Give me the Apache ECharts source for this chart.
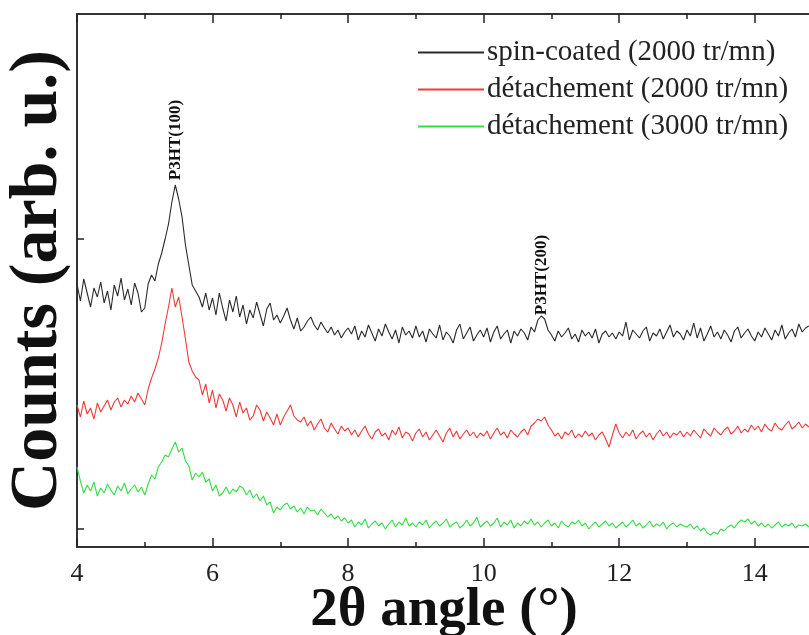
<!DOCTYPE html>
<html>
<head>
<meta charset="utf-8">
<script src="https://cdn.jsdelivr.net/npm/echarts@6/dist/echarts.min.js"></script>
<style>html,body{margin:0;padding:0;background:#fff;}#c{width:809px;height:635px;}</style>
</head>
<body>
<div id="c"></div>
<script>
// sampling grid of 2θ (degrees)
var angleStart = 4.0;
var angleStep = 0.05;

var seriesNames = ['spin-coated (2000 tr/mn)', 'détachement (2000 tr/mn)', 'détachement (3000 tr/mn)'];

var spinCoated2000 = [
 245,228,250,236,222,241,232,247,226,238,219,244,233,251,229,240,224,246,236,217,
 221,245,254,248,265,276,290,305,327,344,330,312,284,264,244,238,232,222,236,219,
 231,214,236,221,208,229,217,233,212,224,205,219,211,227,215,203,220,226,209,214,
 206,213,221,209,200,211,198,202,208,212,204,199,207,201,196,202,194,199,191,197,
 201,195,203,189,198,192,204,196,188,200,193,205,197,190,199,186,202,194,198,191,
 203,192,198,187,200,195,191,204,189,197,193,186,199,205,190,196,202,188,194,199,
 192,201,187,197,203,190,195,199,186,198,193,200,196,189,202,197,209,213,210,199,
 194,188,198,192,196,201,190,195,187,199,193,197,191,200,186,195,198,192,196,190,
 197,193,207,189,199,195,191,198,202,188,196,193,200,190,197,204,192,198,195,189,
 199,193,206,191,201,188,195,203,192,197,190,199,194,187,198,202,191,196,200,193,
 188,197,192,201,195,189,199,193,204,190,196,200,192,205,197,201,203
];

var detach2000 = [
 124,112,128,115,121,110,126,117,123,129,119,127,131,122,129,125,133,127,136,130,
 124,140,151,160,171,186,205,222,241,222,232,212,190,167,158,152,149,134,145,126,
 139,121,135,129,118,131,124,112,127,116,121,109,113,124,119,108,117,111,104,115,
 104,112,118,124,113,109,107,112,103,108,99,105,110,101,97,106,100,95,103,98,
 101,94,99,92,98,103,95,90,97,100,93,96,89,99,94,102,91,97,95,88,
 96,100,92,97,89,94,99,93,87,96,101,92,98,90,95,99,93,97,91,96,
 93,98,90,96,101,94,97,91,99,95,92,97,100,94,103,106,110,108,112,104,
 99,93,96,90,97,94,99,91,95,92,98,93,96,89,94,97,90,82,94,105,
 96,91,97,93,99,90,95,98,92,96,89,95,99,93,97,91,96,94,98,92,
 97,93,99,95,91,100,96,93,101,97,94,99,102,95,98,103,96,100,97,104,
 99,103,97,105,100,98,106,101,99,104,108,100,103,107,101,105,102
];

var detach3000 = [
 62,48,36,44,38,47,33,41,36,45,39,34,43,38,46,35,40,44,37,42,
 34,45,54,50,62,67,74,72,80,87,77,81,68,63,49,56,52,57,47,50,
 38,44,33,36,42,35,40,37,43,41,34,39,31,35,28,33,24,27,16,22,
 19,24,26,20,23,17,21,15,22,18,19,14,20,16,12,15,10,13,8,11,
 6,9,2,7,4,10,1,5,8,3,6,0,5,9,2,7,4,11,3,6,
 2,7,4,9,1,5,8,3,6,10,2,5,7,1,4,9,3,6,12,2,
 5,8,3,6,11,2,7,4,9,1,6,3,8,5,10,4,7,2,6,9,
 3,6,1,8,4,2,7,5,9,3,6,0,4,7,2,5,8,3,6,1,
 4,7,2,5,9,3,6,1,4,8,2,5,3,7,0,4,6,2,5,3,
 2,5,0,3,-2,1,-4,-6,-3,-5,0,-2,2,4,1,6,9,7,10,5,
 8,3,6,2,5,1,4,7,2,5,3,6,1,4,3,5,2
];

var xTickLabels = [4, 6, 8, 10, 12, 14];
var yTickValues = [0, 290];

var peakLabels = ['P3HT(100)', 'P3HT(200)'];
var peakLabelPos = [[5.46, 389], [10.86, 254]];

var colors = ['#2a2a2a', '#ee3a3a', '#33dd44'];

function pairs(arr) {
  var out = [];
  for (var i = 0; i < arr.length; i++) {
    out.push([+(angleStart + i * angleStep).toFixed(3), arr[i]]);
  }
  return out;
}

var chart = echarts.init(document.getElementById('c'), null, {renderer: 'canvas'});
var serif = 'Liberation Serif';
var axisLineStyle = {color: '#333', width: 2};

var xAxisCommon = {
  type: 'value', min: 4, max: 14.83, interval: 2,
  splitLine: {show: false},
  axisLine: {show: true, onZero: false, lineStyle: axisLineStyle},
  axisTick: {show: true, inside: true, length: 9, lineStyle: {color: '#222', width: 1.5}},
  minorTick: {show: true, splitNumber: 2, length: 5, lineStyle: {color: '#222', width: 1.5}},
  minorSplitLine: {show: false}
};

var option = {
  animation: false,
  backgroundColor: '#fff',
  grid: {left: 77, top: 14, right: -2, bottom: 88, containLabel: false, outerBoundsMode: 'none'},
  legend: {
    data: seriesNames,
    orient: 'vertical',
    left: 412, top: 33,
    itemWidth: 66, itemHeight: 14, itemGap: 8,
    itemStyle: {opacity: 0},
    textStyle: {fontFamily: serif, fontSize: 29, color: '#222', padding: [0, 0, 0, -2]}
  },
  xAxis: [
    Object.assign({}, xAxisCommon, {
      position: 'bottom',
      axisLabel: {
        show: true, fontFamily: serif, fontSize: 26, color: '#222', margin: 14,
        formatter: function (v) { return xTickLabels.indexOf(v) >= 0 ? String(v) : ''; }
      },
      name: '2θ angle (°)', nameLocation: 'middle', nameGap: 36, nameMoveOverlap: false,
      nameTextStyle: {fontFamily: serif, fontSize: 55, fontWeight: 'bold', color: '#111'}
    }),
    Object.assign({}, xAxisCommon, {
      position: 'top',
      axisLabel: {show: false}
    })
  ],
  yAxis: {
    type: 'value', min: -18, max: 515,
    splitLine: {show: false},
    axisLine: {show: true, onZero: false, lineStyle: axisLineStyle},
    axisTick: {show: true, inside: true, length: 7, customValues: yTickValues, lineStyle: {color: '#222', width: 1.5}},
    axisLabel: {show: false},
    name: 'Counts (arb. u.)', nameLocation: 'middle', nameGap: 5, nameRotate: 90, nameMoveOverlap: false,
    nameTextStyle: {fontFamily: serif, fontSize: 68, fontWeight: 'bold', color: '#111'}
  },
  series: [
    {name: seriesNames[0], type: 'line', data: pairs(spinCoated2000), symbol: 'none', lineStyle: {color: colors[0], width: 1.1}, itemStyle: {color: colors[0]}},
    {name: seriesNames[1], type: 'line', data: pairs(detach2000), symbol: 'none', lineStyle: {color: colors[1], width: 1.1}, itemStyle: {color: colors[1]}},
    {name: seriesNames[2], type: 'line', data: pairs(detach3000), symbol: 'none', lineStyle: {color: colors[2], width: 1.1}, itemStyle: {color: colors[2]}}
  ]
};
chart.setOption(option);

var g = [];
for (var i = 0; i < peakLabels.length; i++) {
  var p = chart.convertToPixel({xAxisIndex: 0, yAxisIndex: 0}, peakLabelPos[i]);
  g.push({
    type: 'text', x: p[0], y: p[1], rotation: Math.PI / 2,
    style: {text: peakLabels[i], fontFamily: serif, fontSize: 17, fontWeight: 'bold', fill: '#111', align: 'center', verticalAlign: 'middle'}
  });
}
chart.setOption({graphic: g});
</script>
</body>
</html>
